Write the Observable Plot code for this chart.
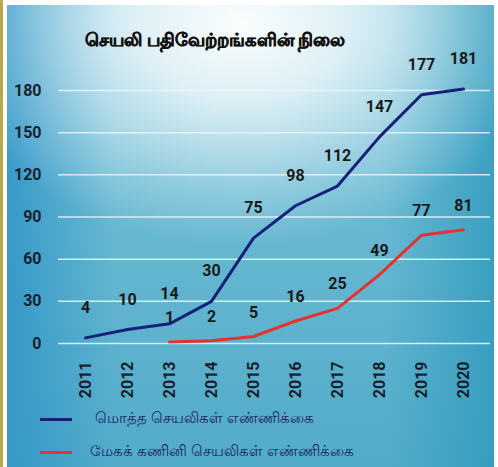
<!DOCTYPE html>
<html><head><meta charset="utf-8">
<script src="https://cdn.jsdelivr.net/npm/d3@7"></script>
<script src="https://cdn.jsdelivr.net/npm/@observablehq/plot@0.6"></script>
<style>
html,body{margin:0;padding:0;background:#fff;}
#frame{position:relative;width:498px;height:467px;overflow:hidden;background:#fff;}
#strip{position:absolute;left:0;top:0;width:3px;height:467px;background:#b8a84c;}
#bg{position:absolute;left:7px;top:5px;width:487px;height:462px;
  background:
   radial-gradient(ellipse 62% 48% at 48% 4%, rgba(255,255,255,0.97) 0%, rgba(255,255,255,0.75) 35%, rgba(255,255,255,0.25) 75%, rgba(255,255,255,0) 100%),
   linear-gradient(to right, rgba(50,150,200,0.9) 0%, rgba(50,150,200,0) 22%, rgba(50,150,200,0) 78%, rgba(50,155,190,0.85) 100%),
   linear-gradient(to bottom, #7cc4da 0%, #62b5cf 60%, #52abc8 100%);}
#chart{position:absolute;left:0;top:0;}
#title{position:absolute;left:85px;top:27px;font:bold 17.5px "Noto Sans",sans-serif;color:#111;white-space:nowrap;-webkit-text-stroke:0.5px #111;}
.leg{position:absolute;left:40px;font:15px "Noto Sans",sans-serif;color:#1a2466;white-space:nowrap;}
.leg span.ln{position:absolute;left:0;width:32px;height:3px;}
.leg span.tx{position:absolute;left:55px;}
</style></head>
<body>
<div id="frame">
  <div id="strip"></div>
  <div id="bg"></div>
  <div id="chart"></div>
  <div id="title"></div>
  <div class="leg" id="leg1" style="top:418px"><span class="ln" style="background:#16217a"></span><span class="tx" style="top:-11px"></span></div>
  <div class="leg" id="leg2" style="top:451px"><span class="ln" style="background:#e4332e"></span><span class="tx" style="top:-11px;left:50px"></span></div>
</div>
<script>
const title = "செயலி பதிவேற்றங்களின் நிலை";
const years = [2011, 2012, 2013, 2014, 2015, 2016, 2017, 2018, 2019, 2020];
const totalApps = [4, 10, 14, 30, 75, 98, 112, 147, 177, 181];
const cloudApps = [null, null, 1, 2, 5, 16, 25, 49, 77, 81];
const yTicks = [0, 30, 60, 90, 120, 150, 180];
const seriesNames = ["மொத்த செயலிகள் எண்ணிக்கை", "மேகக் கணினி செயலிகள்  எண்ணிக்கை"];

const totalRows = years.map((y, i) => ({year: String(y), value: totalApps[i]}));
const cloudRows = years.map((y, i) => ({year: String(y), value: cloudApps[i]})).filter(d => d.value != null);

const blue = "#16217a", red = "#e4332e";
const plot = Plot.plot({
  width: 498, height: 410,
  marginLeft: 58, marginRight: 8, marginTop: 90, marginBottom: 67,
  style: {background: "transparent", fontFamily: "Roboto, sans-serif", overflow: "visible"},
  x: {type: "point", domain: years.map(String), padding: 0.59, label: null},
  y: {domain: [0, 180], label: null},
  marks: [
    Plot.ruleY(yTicks, {stroke: "#eaf6fa", strokeWidth: 1.5, strokeOpacity: 0.85}),
    Plot.axisY({ticks: yTicks, tickSize: 0, tickPadding: 17, fontSize: 16, fontWeight: "bold", fill: "#1a1f2e", label: null}),
    Plot.axisX({tickSize: 0, tickPadding: 18, tickRotate: -90, fontSize: 16, fontWeight: "bold", fill: "#1a1f2e", label: null}),
    Plot.line(totalRows, {x: "year", y: "value", stroke: blue, strokeWidth: 3}),
    Plot.line(cloudRows, {x: "year", y: "value", stroke: red, strokeWidth: 3}),
    Plot.text(totalRows, {x: "year", y: "value", text: "value", dy: -30, fontSize: 16, fontWeight: "bold", fill: "#1a1a1a"}),
    Plot.text(cloudRows, {x: "year", y: "value", text: "value", dy: -24, fontSize: 16, fontWeight: "bold", fill: "#1a1a1a"})
  ]
});
document.getElementById("chart").appendChild(plot);
document.getElementById("title").textContent = title;
document.querySelector("#leg1 .tx").textContent = seriesNames[0];
document.querySelector("#leg2 .tx").textContent = seriesNames[1];
</script>
</body></html>
